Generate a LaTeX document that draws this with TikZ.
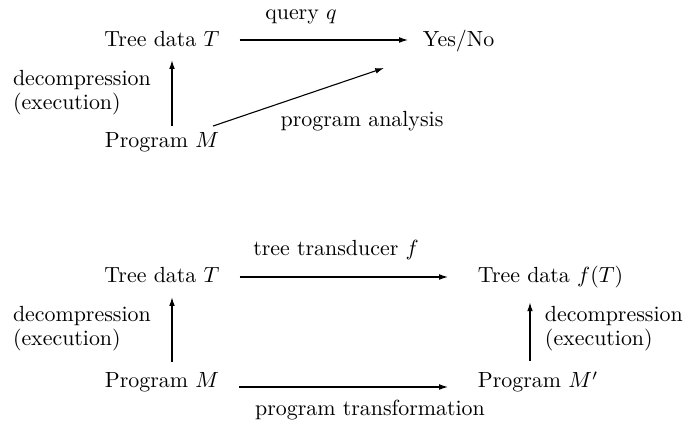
\documentclass[tikz,border=0pt]{standalone}
\usetikzlibrary{arrows.meta}
\begin{document}
\begin{tikzpicture}[x=0.4566pt,y=-0.4566pt,
  lbl/.style={inner sep=0pt,outer sep=0pt},
  arr/.style={-{Latex[length=4pt,width=2.6pt]},line width=0.5pt}]
\useasboundingbox (0,0) rectangle (685,423);

% --- querying the compressed tree ---
\node[lbl,anchor=base] (t1) at (162,47) {Tree data $T$};
\node[lbl,anchor=base west] (yn) at (423,47) {Yes/No};
\node[lbl,anchor=base] (p1) at (162,148) {Program $M$};
\node[lbl,anchor=base] (q1) at (301,20) {query $q$};
\node[lbl,anchor=base] (pa) at (362,127) {program analysis};
\node[lbl,anchor=base west] (d1a) at (13,86) {decompression};
\node[lbl,anchor=base west] (d1b) at (13,110) {(execution)};

\draw[arr] ([shift={(20,-7)}]t1.base east) -- ([shift={(-15,-7)}]yn.base west);
\draw[arr] ([shift={(10,-7)}]p1.north) -- ([shift={(10,13)}]t1.south);
\draw[arr] ([shift={(-6,-7)}]p1.north east) -- ([shift={(-39,21)}]yn.base west);

% --- transforming the compressed tree ---
\node[lbl,anchor=base] (t2) at (162,283) {Tree data $T$};
\node[lbl,anchor=base west] (ft) at (478,283) {Tree data $f(T)$};
\node[lbl,anchor=base] (p2) at (162,388) {Program $M$};
\node[lbl,anchor=base west] (p3) at (478,388) {Program $M'$};
\node[lbl,anchor=base] (tf) at (336,256) {tree transducer $f$};
\node[lbl,anchor=base] (pt) at (370,416) {program transformation};
\node[lbl,anchor=base west] (d2a) at (13,322) {decompression};
\node[lbl,anchor=base west] (d2b) at (13,346) {(execution)};
\node[lbl,anchor=base west] (d3a) at (545,322) {decompression};
\node[lbl,anchor=base west] (d3b) at (545,346) {(execution)};

\draw[arr] ([shift={(20,-6)}]t2.base east) -- ([shift={(-30,-6)}]ft.base west);
\draw[arr] ([shift={(20,-1)}]p2.base east) -- ([shift={(-30,-1)}]p3.base west);
\draw[arr] ([shift={(10,-11)}]p2.north) -- ([shift={(10,14)}]t2.south);
\draw[arr] ([shift={(52,-11)}]p3.north west) -- ([shift={(52,14)}]ft.south west);
\end{tikzpicture}
\end{document}
